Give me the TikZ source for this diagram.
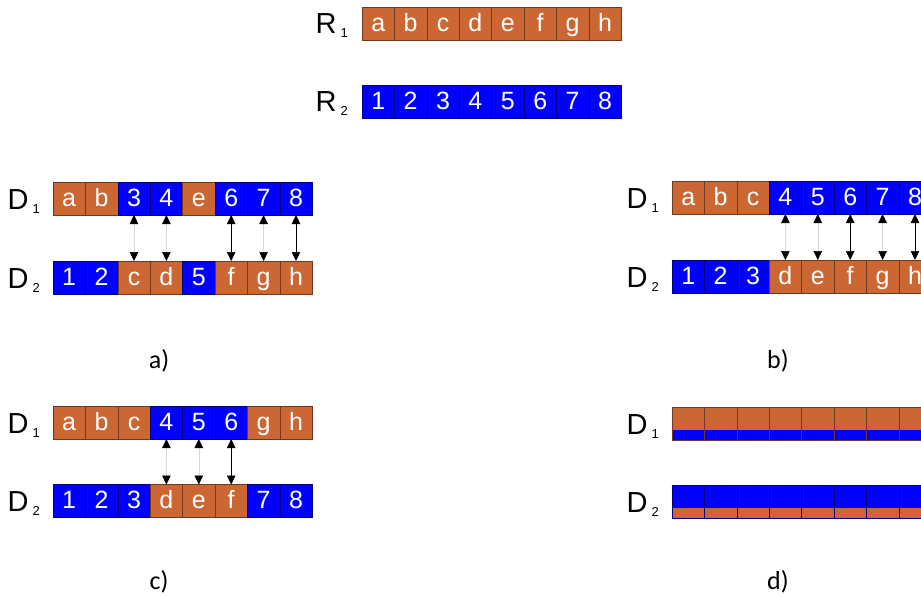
\documentclass[tikz,border=0pt]{standalone}
\usepackage{fontspec}
\setmainfont{Liberation Sans}
\newfontfamily\capfont{Carlito}
\usetikzlibrary{positioning,calc,arrows.meta}
\definecolor{rust}{RGB}{204,102,51}
% name with a lowered index
\newcommand\idxname[2]{#1\hspace{4pt}\raisebox{-4pt}{\fontsize{13}{13}\selectfont #2}}

\begin{document}
\begin{tikzpicture}[x=1pt, y=-1pt,
    cell/.style={rectangle, minimum width=32.4pt, minimum height=33pt, inner sep=0pt,
                 outer sep=0pt, text=white, text height=17pt, text depth=2pt,
                 font=\fontsize{25}{25}\selectfont, line width=0.4pt},
    cellA/.style={cell, fill=rust, draw=rust!55!black},
    cellB/.style={cell, fill=blue, draw=blue!50!black},
    stripA/.style={cellA, path picture={\fill[blue] (path picture bounding box.south west)
                   rectangle ([yshift=10pt]path picture bounding box.south east);}},
    stripB/.style={cellB, path picture={\fill[rust] (path picture bounding box.south west)
                   rectangle ([yshift=10pt]path picture bounding box.south east);}},
    lbl/.style={anchor=base east, inner sep=0pt, font=\fontsize{29}{29}\selectfont},
    link/.style={{Triangle[length=9pt,width=8.5pt,black]}-{Triangle[length=9pt,width=8.5pt,black]},
                 line width=0.5pt},
    faint/.style={draw=black!15},
    panel/.style={font=\capfont\fontsize{26}{26}\selectfont}
]
\useasboundingbox (0,0) rectangle (921,597);
\clip (0,0) rectangle (921,597);

% source rows
\foreach \t [count=\i] in {a,b,c,d,e,f,g,h}
  \node[cellA] (r1-\i) at (362+32.4*\i-16.2, 24) {\t};
\foreach \t [count=\i] in {1,2,3,4,5,6,7,8}
  \node[cellB] (r2-\i) at (362+32.4*\i-16.2, 102) {\t};
\node[lbl] (r1) at ($(r1-1.west)+(-14pt,-9.5pt)$) {\idxname{R}{1}};
\node[lbl] (r2) at ($(r2-1.west)+(-14pt,-9.5pt)$) {\idxname{R}{2}};

% a)
\foreach \t/\s [count=\i] in {a/A,b/A,3/B,4/B,e/A,6/B,7/B,8/B}
  \node[cell\s] (a1-\i) at (53+32.4*\i-16.2, 198.5) {\t};
\foreach \t/\s [count=\i] in {1/B,2/B,c/A,d/A,5/B,f/A,g/A,h/A}
  \node[cell\s] (a2-\i) at (53+32.4*\i-16.2, 277.5) {\t};
\node[lbl] (da1) at ($(a1-1.west)+(-13pt,-10.5pt)$) {\idxname{D}{1}};
\node[lbl] (da2) at ($(a2-1.west)+(-13pt,-10.5pt)$) {\idxname{D}{2}};
\draw[link, faint] (a1-3.south) -- (a2-3.north);
\draw[link, faint] (a1-4.south) -- (a2-4.north);
\draw[link] (a1-6.south) -- (a2-6.north);
\draw[link, faint] (a1-7.south) -- (a2-7.north);
\draw[link] (a1-8.south) -- (a2-8.north);
\node[panel] (capa) at (159,361) {a)};

% b)
\foreach \t/\s [count=\i] in {a/A,b/A,c/A,4/B,5/B,6/B,7/B,8/B}
  \node[cell\s] (b1-\i) at (672+32.4*\i-16.2, 197.5) {\t};
\foreach \t/\s [count=\i] in {1/B,2/B,3/B,d/A,e/A,f/A,g/A,h/A}
  \node[cell\s] (b2-\i) at (672+32.4*\i-16.2, 276.5) {\t};
\node[lbl] (db1) at ($(b1-1.west)+(-13pt,-10.5pt)$) {\idxname{D}{1}};
\node[lbl] (db2) at ($(b2-1.west)+(-13pt,-10.5pt)$) {\idxname{D}{2}};
\draw[link, faint] (b1-4.south) -- (b2-4.north);
\draw[link, faint] (b1-5.south) -- (b2-5.north);
\draw[link] (b1-6.south) -- (b2-6.north);
\draw[link, faint] (b1-7.south) -- (b2-7.north);
\draw[link] (b1-8.south) -- (b2-8.north);
\node[panel] (capb) at (778,361) {b)};

% c)
\foreach \t/\s [count=\i] in {a/A,b/A,c/A,4/B,5/B,6/B,g/A,h/A}
  \node[cell\s] (c1-\i) at (53+32.4*\i-16.2, 422.5) {\t};
\foreach \t/\s [count=\i] in {1/B,2/B,3/B,d/A,e/A,f/A,7/B,8/B}
  \node[cell\s] (c2-\i) at (53+32.4*\i-16.2, 501) {\t};
\node[lbl] (dc1) at ($(c1-1.west)+(-13pt,-10.5pt)$) {\idxname{D}{1}};
\node[lbl] (dc2) at ($(c2-1.west)+(-13pt,-10.5pt)$) {\idxname{D}{2}};
\draw[link, faint] (c1-4.south) -- (c2-4.north);
\draw[link, faint] (c1-5.south) -- (c2-5.north);
\draw[link] (c1-6.south) -- (c2-6.north);
\node[panel] (capc) at (159,582) {c)};

% d)
\foreach \i in {1,...,8}
  \node[stripA] (d1-\i) at (672+32.4*\i-16.2, 423.5) {};
\foreach \i in {1,...,8}
  \node[stripB] (d2-\i) at (672+32.4*\i-16.2, 501.5) {};
\node[lbl] (dd1) at ($(d1-1.west)+(-13pt,-10.5pt)$) {\idxname{D}{1}};
\node[lbl] (dd2) at ($(d2-1.west)+(-13pt,-10.5pt)$) {\idxname{D}{2}};
\node[panel] (capd) at (778,582) {d)};
\end{tikzpicture}
\end{document}
